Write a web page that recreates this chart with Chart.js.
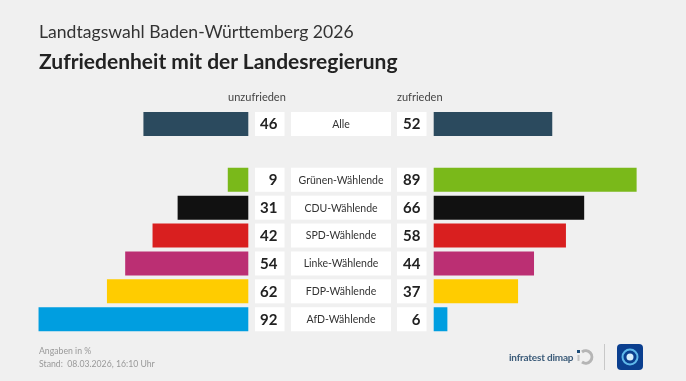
<!DOCTYPE html>
<html lang="de">
<head>
<meta charset="utf-8">
<title>Zufriedenheit mit der Landesregierung</title>
<script src="https://cdn.jsdelivr.net/npm/chart.js@4"></script>
<style>
  html, body { margin: 0; padding: 0; background: #f0f0f0; }
  #wrap { position: relative; width: 686px; height: 381px; overflow: hidden; font-family: Lato, sans-serif; }
  canvas { position: absolute; left: 0; top: 0; }
  .t { position: absolute; white-space: nowrap; }
  #sup { left: 39px; top: 20px; font-size: 17.6px; line-height: 24px; color: #333; }
  #ttl { left: 39px; top: 47px; font-size: 21px; line-height: 28px; font-weight: 700; color: #222; }
  .col { top: 89px; font-size: 11px; line-height: 15px; color: #444; }
  #foot { left: 39px; top: 344px; font-size: 8.7px; line-height: 13px; color: #999; }
  #brand { left: 509px; top: 350px; font-size: 10px; line-height: 15px; font-weight: 700; color: #3a5a78; letter-spacing: -0.2px; }
  svg { position: absolute; }
</style>
</head>
<body>
<div id="wrap">
  <canvas id="chart" width="686" height="381"></canvas>
  <div class="t" id="sup">Landtagswahl Baden-Württemberg 2026</div>
  <div class="t" id="ttl">Zufriedenheit mit der Landesregierung</div>
  <div class="t col" style="left:228px">unzufrieden</div>
  <div class="t col" style="left:397px">zufrieden</div>
  <div class="t" id="foot">Angaben in %<br>Stand:&nbsp; 08.03.2026, 16:10 Uhr</div>
  <div class="t" id="brand">infratest dimap</div>
  <svg style="left:576px;top:344px" width="32" height="26" viewBox="0 0 32 26">
    <path d="M6 8 A6.2 6.2 0 1 1 6 18" fill="none" stroke="#b5b5b5" stroke-width="3"/>
    <rect x="1" y="6" width="3" height="3" fill="#1f4e79"/>
    <rect x="1.5" y="11" width="2" height="6" fill="#c4c4c4"/>
    <rect x="28" y="0" width="1" height="26" fill="#c8c8c8"/>
  </svg>
  <svg style="left:617px;top:344px" width="26" height="26" viewBox="0 0 26 26">
    <rect width="26" height="26" rx="4" fill="#0b3f8f"/>
    <circle cx="13" cy="13" r="7.5" fill="none" stroke="#5fb8ea" stroke-width="2"/>
    <circle cx="13" cy="13" r="3.5" fill="#d8eefb"/>
  </svg>
</div>
<script>
const categories = ['Alle', '', 'Grünen-Wählende', 'CDU-Wählende', 'SPD-Wählende', 'Linke-Wählende', 'FDP-Wählende', 'AfD-Wählende'];
const unzufrieden = [46, null, 9, 31, 42, 54, 62, 92];
const zufrieden = [52, null, 89, 66, 58, 44, 37, 6];
const barColors = ['#2b4a5e', '#ffffff', '#7ab91a', '#111111', '#d91f1f', '#bb2f73', '#ffcc00', '#009ee0'];

// px per Prozentpunkt und die beiden Nulllinien
const pxPerUnit = 2.28;
const zeroLeft = 248.3;
const zeroRight = 433.7;
const chartWidth = 686;

// weisse Kaesten mit Zahlen und Gruppennamen in der Mitte
const cells = {
  id: 'cells',
  beforeDatasetsDraw(chart) {
    const ctx = chart.ctx;
    const y = chart.scales.y;
    ctx.save();
    ctx.textBaseline = 'middle';
    categories.forEach((name, i) => {
      if (!name) return;
      const cy = y.getPixelForValue(i);
      ctx.fillStyle = '#ffffff';
      ctx.fillRect(255, cy - 12, 29.5, 24);
      ctx.fillRect(291, cy - 12, 100, 24);
      ctx.fillRect(397, cy - 12, 29.5, 24);
      ctx.fillStyle = '#222222';
      ctx.font = '700 15px Lato';
      ctx.textAlign = 'right';
      ctx.fillText(unzufrieden[i], 277.5, cy + 0.5);
      ctx.fillText(zufrieden[i], 420.5, cy + 0.5);
      ctx.fillStyle = '#333333';
      ctx.font = '10.5px Lato';
      ctx.textAlign = 'center';
      ctx.fillText(name, 341, cy + 0.5);
    });
    ctx.restore();
  }
};

new Chart(document.getElementById('chart'), {
  type: 'bar',
  data: {
    labels: categories,
    datasets: [
      { label: 'unzufrieden', data: unzufrieden, xAxisID: 'xLeft', backgroundColor: barColors },
      { label: 'zufrieden', data: zufrieden, xAxisID: 'xRight', backgroundColor: barColors }
    ]
  },
  plugins: [cells],
  options: {
    indexAxis: 'y',
    responsive: false,
    animation: false,
    layout: { padding: { top: 110, bottom: 47.8, left: 0, right: 0 } },
    datasets: { bar: { categoryPercentage: 1, barPercentage: 0.86, grouped: false } },
    plugins: { legend: { display: false }, tooltip: { enabled: false } },
    scales: {
      y: { type: 'category', display: false },
      xLeft: {
        type: 'linear', display: false, reverse: true,
        min: -(chartWidth - zeroLeft) / pxPerUnit, max: zeroLeft / pxPerUnit
      },
      xRight: {
        type: 'linear', display: false,
        min: -zeroRight / pxPerUnit, max: (chartWidth - zeroRight) / pxPerUnit
      }
    }
  }
});
</script>
</body>
</html>
